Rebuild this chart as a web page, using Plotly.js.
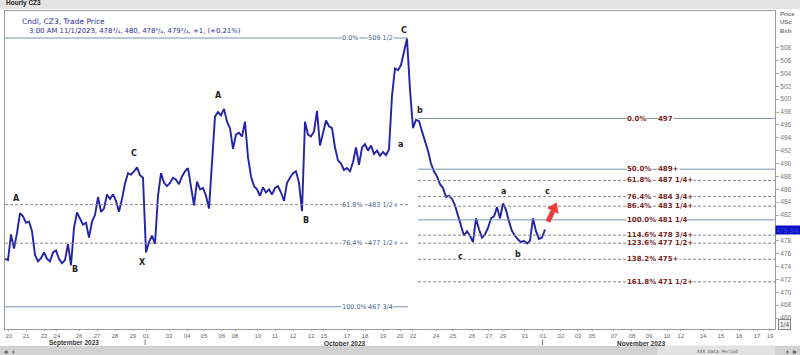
<!DOCTYPE html>
<html><head><meta charset="utf-8">
<script src="https://cdn.plot.ly/plotly-3.0.1.min.js"></script>
<style>html,body{margin:0;padding:0;background:#fff;} #chart{width:800px;height:355px;}</style>
</head><body><div id="chart"></div>
<script>
// ---- DATA ----
// closing price of consecutive bars (≈3-hour steps), 20 Sep 2023 -> 1 Nov 2023 03:00
const closes = [
 475.2, 475.0, 479.0, 476.8, 479.2, 482.3, 481.8, 480.8, 481.0, 479.5,
 475.8, 474.8, 475.3, 476.2, 475.2, 474.8, 476.2, 476.5, 475.2, 474.5,
 475.0, 477.5, 474.2, 480.0, 482.4, 481.5, 480.5, 480.8, 478.5, 481.0,
 482.0, 484.8, 482.5, 483.0, 485.2, 484.5, 485.2, 484.2, 482.5, 484.5,
 486.9, 488.5, 488.3, 488.8, 489.4, 488.2, 487.8, 476.2, 477.8, 478.8,
 477.5, 485.0, 488.5, 487.0, 486.5, 487.0, 487.8, 487.5, 486.8, 488.0,
 488.8, 489.3, 486.5, 483.5, 487.2, 486.0, 486.2, 485.0, 483.0, 490.0,
 497.3, 498.0, 497.5, 498.5, 496.5, 495.5, 492.3, 494.5, 494.8, 494.2,
 496.5, 491.0, 488.0, 486.5, 486.0, 485.0, 486.3, 485.5, 486.0, 485.2,
 486.2, 486.5, 485.5, 484.2, 487.0, 487.8, 488.5, 488.8, 487.0, 482.6,
 496.5, 494.5, 494.2, 495.0, 498.2, 492.8, 494.8, 496.7, 495.8, 495.5,
 492.5, 490.5, 490.0, 489.0, 489.3, 488.8, 490.2, 492.5, 489.8, 492.5,
 493.0, 492.0, 492.8, 491.5, 492.0, 491.2, 491.8, 491.3, 492.2, 500.5,
 504.8, 504.5, 505.3, 507.5, 509.4, 501.5, 495.5, 496.8, 496.6, 495.0,
 493.5, 492.0, 490.0, 488.8, 488.0, 486.8, 486.2, 484.8, 485.0, 484.5,
 483.5, 482.0, 480.5, 478.8, 479.5, 478.8, 477.8, 481.5, 479.8, 478.5,
 479.0, 480.0, 481.5, 481.8, 483.2, 481.5, 483.8, 482.8, 481.0, 479.5,
 478.8, 478.2, 477.8, 478.0, 477.6, 478.0, 481.5, 479.5, 478.3, 478.5,
 479.75
];
// day labels on the bar-index axis
const dayTickBars = [1.3,7,13,17.3,24.7,30.7,36.7,42.7,47,54.7,60.7,66.3,72.3,76.7,84.3,90,96,102,106.3,114,120,126,131.7,
  136,143.7,149.3,155.7,161.3,166,173.3,179.3,185.3,191,195.7,203,209,214.7,220.7,225.3,232.7,238.7,244.7,250.7,255];
const dayTickText = ['20','21','22','24','26','27','28','29','01','03','04','05','06','08','10','11','12','13','15','17','18','19','20',
  '22','24','25','26','27','29','31','01','02','03','05','07','08','09','10','12','14','15','16','17','19'];
const months = ['September 2023','October 2023','November 2023'];
const priceTicks = [466,468,470,472,474,476,478,480,482,484,486,488,490,492,494,496,498,500,502,504,506,508];

// Fibonacci retracement of the Sep-Oct swing (left) and of the October decline (right)
const leftFibPct   = ['0.0%','61.8%','76.4%','100.0%'];
const leftFibPrice = [509.5, 483.625, 477.625, 467.75];
const leftFibText  = ['509 1/2','483 1/2+','477 1/2+','467 3/4'];
const rightFibPct   = ['0.0%','50.0%','61.8%','76.4%','86.4%','100.0%','114.6%','123.6%','138.2%','161.8%'];
const rightFibPrice = [497, 489.125, 487.375, 484.875, 483.375, 481.25, 478.875, 477.625, 475.125, 471.625];
const rightFibText  = ['497','489+','487 1/4+','484 3/4+','483 1/4+','481 1/4','478 3/4+','477 1/2+','475+','471 1/2+'];
const waveText = ['A','B','C','X','A','B','C','a','b','c','a','b','c'];
const lastPrice = 479.75;
const infoLine1 = 'Cndl, CZ3, Trade Price';
const infoLine2 = '3:00 AM 11/1/2023, 478³/₄, 480, 478³/₄, 479³/₄, +1, (+0.21%)';

// ---- LAYOUT BUILD ----
const bars = closes.map((_, i) => i);
const solidPct = ['0.0%','50.0%','100.0%'];
const shapes = [];
const annotations = [];
const labelFont = 'DejaVu Sans, Verdana, sans-serif';
const uiFont = 'Liberation Sans, Arial, sans-serif';

// header / footer bands
shapes.push({type:'rect', xref:'paper', yref:'paper', x0:-0.01, x1:1.04, y0:1.006, y1:1.04, fillcolor:'#e3e3e3', line:{width:0}, layer:'below'});
shapes.push({type:'rect', xref:'paper', yref:'paper', x0:-0.01, x1:1.04, y0:-0.09, y1:-0.053, fillcolor:'#d2d2d2', line:{width:0}, layer:'below'});
shapes.push({type:'rect', xref:'paper', yref:'paper', x0:0.847, x1:1.0, y0:-0.09, y1:-0.053, fillcolor:'#e2e2e2', line:{width:0}, layer:'below'});
// month separators
[0.182, 0.698].forEach(px => shapes.push({type:'line', xref:'paper', yref:'paper', x0:px, x1:px, y0:-0.033, y1:-0.05, line:{color:'#777', width:1}}));

const xLeftEnd = 134.3, xRightStart = 137.7;
leftFibPct.forEach((p, i) => {
  const solid = solidPct.includes(p);
  shapes.push({type:'line', xref:'x', yref:'y', x0:0, x1:xLeftEnd, y0:leftFibPrice[i], y1:leftFibPrice[i],
    line:{color: solid ? '#7d93ab' : '#8a8a8a', width:1, dash: solid ? 'solid' : '3px,2px'}});
  annotations.push({xref:'x', yref:'y', x:111.9, y:leftFibPrice[i], text:p, showarrow:false, xanchor:'left', yanchor:'middle',
    font:{family:labelFont, size:6.5, color:'#3f6688'}, bgcolor:'#ffffff', borderpad:0});
  annotations.push({xref:'x', yref:'y', x:120.6, y:leftFibPrice[i], text:leftFibText[i], showarrow:false, xanchor:'left', yanchor:'middle',
    font:{family:labelFont, size:6.5, color:'#3f6688'}, bgcolor:'#ffffff', borderpad:0});
});
rightFibPct.forEach((p, i) => {
  const solid = solidPct.includes(p);
  shapes.push({type:'line', xref:'x', yref:'y', x0:xRightStart, x1:256.67, y0:rightFibPrice[i], y1:rightFibPrice[i],
    line:{color: solid ? '#7d93ab' : '#8a8a8a', width:1, dash: solid ? 'solid' : '3px,2px'}});
  annotations.push({xref:'x', yref:'y', x:207, y:rightFibPrice[i], text:'<b>'+p+'</b>', showarrow:false, xanchor:'left', yanchor:'middle',
    font:{family:labelFont, size:7, color:'#7a1f1f'}, bgcolor:'#ffffff', borderpad:0});
  annotations.push({xref:'x', yref:'y', x:217.3, y:rightFibPrice[i], text:'<b>'+rightFibText[i]+'</b>', showarrow:false, xanchor:'left', yanchor:'middle',
    font:{family:labelFont, size:7, color:'#7a1f1f'}, bgcolor:'#ffffff', borderpad:0});
});

// wave labels (placed beside the swing points)
const wavePos = [[3.7,484.6],[23.3,473.5],[43,491.6],[45.7,474.6],[71,500.6],[100.3,481.1],[133,510.6],
                 [131.7,492.9],[138.3,498.2],[152,475.5],[166.3,485.7],[171,475.8],[181,485.7]];
waveText.forEach((t, i) => annotations.push({xref:'x', yref:'y', x:wavePos[i][0], y:wavePos[i][1], text:'<b>'+t+'</b>',
  showarrow:false, font:{family:labelFont, size:8, color:'#1e1e1e'}}));

// red arrow (pixel-sized path anchored at its tail)
shapes.push({type:'path', xref:'x', yref:'y', xsizemode:'pixel', ysizemode:'pixel', xanchor:181, yanchor:481.0,
  path:'M -2.1 1.0 L 3.1 11.6 L -0.4 13.4 L 8.4 18.8 L 10.4 8.1 L 7.1 9.8 L 2.1 -1.0 Z',
  fillcolor:'#ec3c3c', line:{color:'#ec3c3c', width:0.5}});

// info text
annotations.push({xref:'paper', yref:'paper', x:0.0195, y:0.966, xanchor:'left', yanchor:'middle', align:'left', showarrow:false,
  text:infoLine1, font:{family:labelFont, size:7.5, color:'#2e2e9c'}});
annotations.push({xref:'paper', yref:'paper', x:0.028, y:0.937, xanchor:'left', yanchor:'middle', align:'left', showarrow:false,
  text:infoLine2, font:{family:labelFont, size:6.9, color:'#2e2e9c'}});
annotations.push({xref:'paper', yref:'paper', x:-0.001, y:1.024, xanchor:'left', yanchor:'middle', showarrow:false,
  text:'<b>Hourly CZ3</b>', font:{family:uiFont, size:6.5, color:'#222'}});
['Price','USc','Bsh'].forEach((t, i) => annotations.push({xref:'paper', yref:'paper', x:1.004, y:0.992 - i*0.027, xanchor:'left', yanchor:'middle',
  showarrow:false, text:'<b>'+t+'</b>', font:{family:uiFont, size:6, color:'#777'}}));
// months
[[0.09,months[0]],[0.442,months[1]],[0.826,months[2]]].forEach(m => annotations.push({xref:'paper', yref:'paper', x:m[0], y:-0.045,
  xanchor:'center', yanchor:'middle', showarrow:false, text:'<b>'+m[1]+'</b>', font:{family:uiFont, size:6.5, color:'#333'}}));
// footer
annotations.push({xref:'paper', yref:'paper', x:-0.004, y:-0.072, xanchor:'left', yanchor:'middle', showarrow:false, text:'<b>«  ‹</b>', font:{size:7, color:'#333'}});
annotations.push({xref:'paper', yref:'paper', x:1.012, y:-0.072, xanchor:'left', yanchor:'middle', showarrow:false, text:'<b>›  »</b>', font:{size:7, color:'#333'}});
annotations.push({xref:'paper', yref:'paper', x:0.925, y:-0.072, xanchor:'center', yanchor:'middle', showarrow:false, text:'XXX Data Period', font:{family:'DejaVu Sans Mono', size:4.5, color:'#444'}});
annotations.push({xref:'paper', yref:'paper', x:1.004, y:0.013, xanchor:'left', yanchor:'middle', showarrow:false, text:'1/4',
  font:{family:uiFont, size:6.5, color:'#555'}, bordercolor:'#888', borderwidth:1, borderpad:1, bgcolor:'#f0f0f0'});
// last price marker
annotations.push({xref:'paper', yref:'y', x:1.0, y:lastPrice, xanchor:'left', yanchor:'middle', showarrow:false, text:'479 3/4 ',
  font:{family:uiFont, size:6.5, color:'#3344ee'}, bgcolor:'#0b12c4', borderpad:0.5});

const trace = {type:'scatter', mode:'lines', x:bars, y:closes, line:{color:'#2323a6', width:1.9}, hoverinfo:'y'};

const layout = {
  width:800, height:355, margin:{l:5, r:25, t:11, b:26},
  paper_bgcolor:'#ffffff', plot_bgcolor:'#ffffff', showlegend:false,
  xaxis:{range:[0,256.67], tickvals:dayTickBars, ticktext:dayTickText, tickfont:{family:uiFont, size:6, color:'#666'},
    ticks:'outside', ticklen:1, tickcolor:'#aaa', showgrid:false, zeroline:false, showline:true, linecolor:'#9a9a9a', mirror:true, fixedrange:true},
  yaxis:{side:'right', range:[464.3,513.7], tickvals:priceTicks, ticktext:priceTicks.map(v => v === 480 ? '' : String(v)), tickfont:{family:uiFont, size:6.5, color:'#777'},
    ticks:'outside', ticklen:3, tickcolor:'#aaa', showgrid:false, zeroline:false, showline:true, linecolor:'#9a9a9a', mirror:true, fixedrange:true},
  shapes:shapes, annotations:annotations
};
Plotly.newPlot('chart', [trace], layout, {staticPlot:true, displayModeBar:false});
</script></body></html>
